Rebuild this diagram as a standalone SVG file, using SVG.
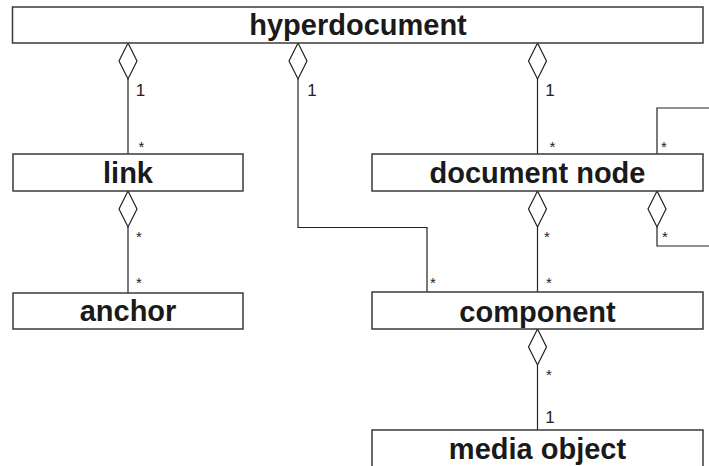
<svg xmlns="http://www.w3.org/2000/svg" width="709" height="466" viewBox="0 0 709 466">
  <style>
    .box { fill: #ffffff; stroke: #3a3a3a; stroke-width: 1.5; }
    .name { font-family: "Liberation Sans", Arial, sans-serif; font-weight: bold; font-size: 29px; fill: #1a1a1a; text-anchor: middle; }
    .edge { fill: none; stroke: #222222; stroke-width: 1.2; }
    .agg { fill: #ffffff; stroke: #222222; stroke-width: 1.2; }
    .mult { font-family: "Liberation Sans", Arial, sans-serif; font-size: 17px; fill: #222222; text-anchor: middle; }
    .star { font-family: "Liberation Sans", Arial, sans-serif; font-size: 15px; fill: #222222; text-anchor: middle; }
  </style>
  <defs>
    <!-- hollow aggregation diamond, tip at the origin, pointing up -->
    <path id="diamond" class="agg" d="M0,0 L9,18 L0,36 L-9,18 Z"/>
  </defs>

  <rect width="709" height="466" fill="#ffffff"/>

  <!-- connectors -->
  <g id="connectors">
    <!-- hyperdocument to link -->
    <line class="edge" x1="128" y1="79" x2="128" y2="154"/>
    <use href="#diamond" x="128" y="43"/>
    <text class="mult" x="140.5" y="96">1</text>
    <text class="star" x="141.5" y="152">*</text>

    <!-- hyperdocument to component -->
    <polyline class="edge" points="298,79 298,227.5 427,227.5 427,292"/>
    <use href="#diamond" x="298" y="43"/>
    <text class="mult" x="312" y="96">1</text>
    <text class="star" x="433" y="288">*</text>

    <!-- hyperdocument to document node -->
    <line class="edge" x1="537.5" y1="79" x2="537.5" y2="154"/>
    <use href="#diamond" x="537.5" y="43"/>
    <text class="mult" x="550" y="96">1</text>
    <text class="star" x="552.5" y="152">*</text>

    <!-- document node to itself -->
    <polyline class="edge" points="657,154 657,108 712,108"/>
    <polyline class="edge" points="657,227 657,246 712,246"/>
    <use href="#diamond" x="657" y="191"/>
    <text class="star" x="664" y="152">*</text>
    <text class="star" x="665" y="242">*</text>

    <!-- link to anchor -->
    <line class="edge" x1="128" y1="227" x2="128" y2="293"/>
    <use href="#diamond" x="128" y="191"/>
    <text class="star" x="139" y="242">*</text>
    <text class="star" x="139" y="288">*</text>

    <!-- document node to component -->
    <line class="edge" x1="537.5" y1="227" x2="537.5" y2="292"/>
    <use href="#diamond" x="537.5" y="191"/>
    <text class="star" x="547" y="242">*</text>
    <text class="star" x="549" y="288">*</text>

    <!-- component to media object -->
    <line class="edge" x1="537.5" y1="365" x2="537.5" y2="430"/>
    <use href="#diamond" x="537.5" y="329"/>
    <text class="star" x="549" y="380">*</text>
    <text class="mult" x="550" y="423">1</text>
  </g>

  <!-- classes -->
  <g id="hyperdocument">
    <rect class="box" x="12.5" y="7" width="690.5" height="36"/>
    <text class="name" x="358" y="35">hyperdocument</text>
  </g>
  <g id="link">
    <rect class="box" x="13" y="154" width="230" height="37"/>
    <text class="name" x="128" y="183">link</text>
  </g>
  <g id="anchor">
    <rect class="box" x="13" y="293" width="230" height="36"/>
    <text class="name" x="128" y="321">anchor</text>
  </g>
  <g id="document-node">
    <rect class="box" x="372" y="154" width="331" height="37"/>
    <text class="name" x="537.5" y="183">document node</text>
  </g>
  <g id="component">
    <rect class="box" x="372" y="292" width="331" height="37"/>
    <text class="name" x="537.5" y="322">component</text>
  </g>
  <g id="media-object">
    <rect class="box" x="372" y="430" width="331" height="40"/>
    <text class="name" x="537.5" y="459">media object</text>
  </g>
</svg>
